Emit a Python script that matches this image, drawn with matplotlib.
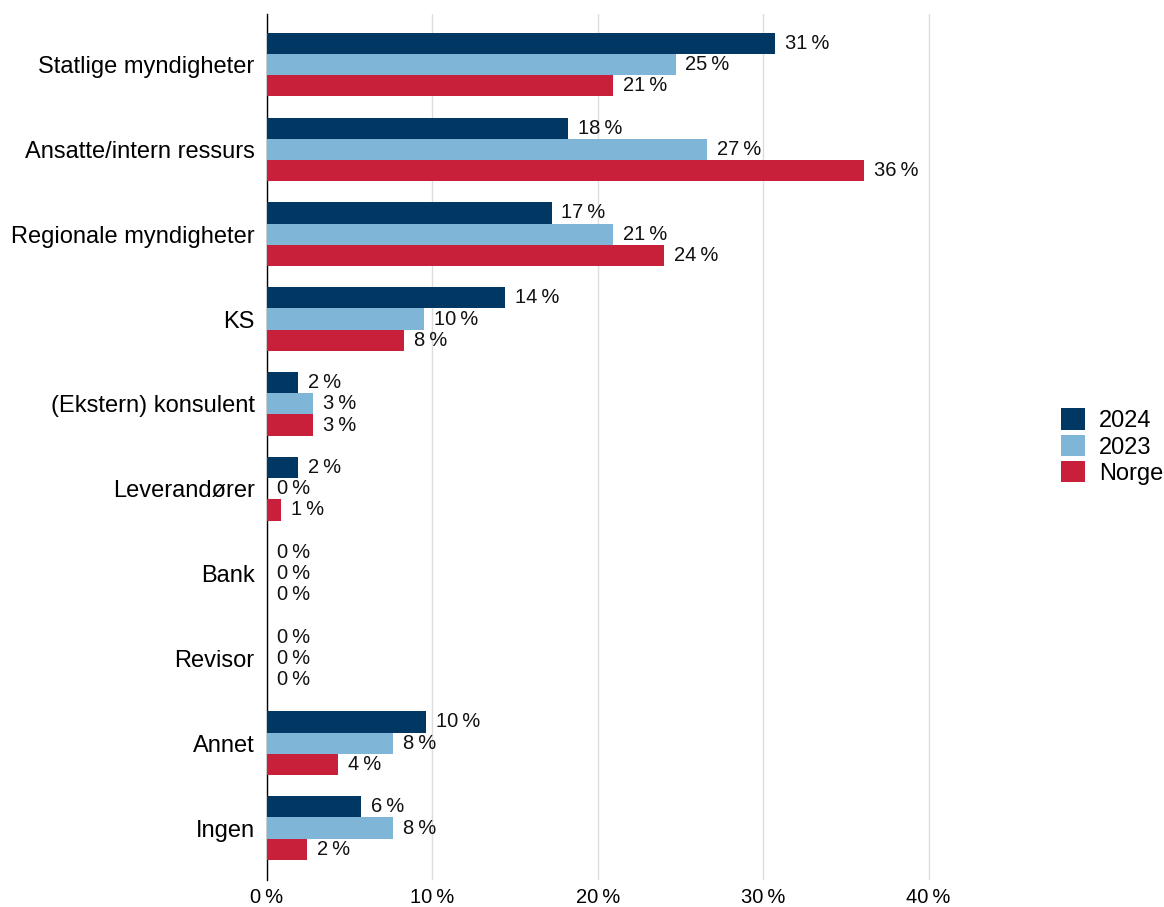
import matplotlib
matplotlib.use("Agg")
import matplotlib.pyplot as plt
import numpy as np

plt.rcParams['font.family'] = ['Liberation Sans', 'DejaVu Sans']

# Data
categories = ["Statlige myndigheter", "Ansatte/intern ressurs", "Regionale myndigheter",
              "KS", "(Ekstern) konsulent", "Leverandører", "Bank", "Revisor",
              "Annet", "Ingen"]
v2024 = [30.7, 18.2, 17.2, 14.4, 1.9, 1.9, 0, 0, 9.6, 5.7]
v2023 = [24.7, 26.6, 20.9, 9.5, 2.8, 0, 0, 0, 7.6, 7.6]
norge = [20.9, 36.1, 24.0, 8.3, 2.8, 0.85, 0, 0, 4.3, 2.4]
series_names = ["2024", "2023", "Norge"]
colors = ["#003763", "#7fb5d6", "#c8203a"]
xticks = [0, 10, 20, 30, 40]

fig = plt.figure(figsize=(11.64, 9.07), dpi=100)
ax = fig.add_axes([0.2294, 0.03, 0.611, 0.955])

y = np.arange(len(categories))
h = 0.25
for i, (vals, name, c) in enumerate(zip([v2024, v2023, norge], series_names, colors)):
    pos = y + (i - 1) * h
    ax.barh(pos, vals, height=h, color=c, label=name, zorder=3)
    for p, v in zip(pos, vals):
        ax.text(v + 0.6, p, f"{round(v):.0f}\u2009%", va="center", ha="left",
                fontsize=14.5, color="#111111", zorder=4)

ax.set_ylim(len(categories) - 1 + 0.61, -0.6)
ax.set_xlim(0, 43)
ax.set_yticks(y)
ax.set_yticklabels(categories, fontsize=17)
ax.set_xticks(xticks)
ax.set_xticklabels([f"{t}\u2009%" for t in xticks], fontsize=14.5)
ax.tick_params(axis="y", length=0, pad=9)
ax.tick_params(axis="x", length=0, pad=6)
ax.grid(axis="x", color="#dddddd", linewidth=1, zorder=0)
for s in ["top", "right", "bottom"]:
    ax.spines[s].set_visible(False)
ax.spines["left"].set_color("black")
ax.spines["left"].set_linewidth(1)

ax.legend(loc="center left", bbox_to_anchor=(1.117, 0.5), frameon=False,
          fontsize=17, handlelength=1.0, handleheight=1.0, handletextpad=0.6,
          labelspacing=0.12, borderaxespad=0, borderpad=0)

fig.savefig("out.png", dpi=100)
